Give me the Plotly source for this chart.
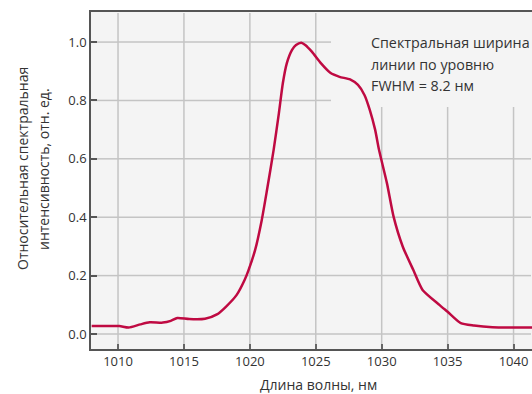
import plotly.graph_objects as go

wavelength = [1008.0, 1009.0, 1010.1, 1010.8, 1011.7, 1012.4, 1013.4, 1014.0, 1014.5, 1015.4,
              1016.6, 1017.5, 1018.2, 1019.0, 1019.6, 1019.9, 1020.4, 1020.9, 1021.3, 1021.8,
              1022.2, 1022.5, 1022.8, 1023.2, 1023.5, 1023.9, 1024.2, 1024.7, 1025.4, 1026.1,
              1026.8, 1027.6, 1028.2, 1028.7, 1029.1, 1029.5, 1029.8, 1030.4, 1030.9, 1031.6,
              1032.4, 1033.1, 1034.4, 1035.0, 1036.0, 1037.0, 1038.4, 1040.0, 1041.5]
intensity = [0.027, 0.027, 0.027, 0.022, 0.033, 0.040, 0.039, 0.045, 0.055, 0.051,
             0.052, 0.067, 0.094, 0.134, 0.185, 0.219, 0.288, 0.390, 0.493, 0.630,
             0.756, 0.859, 0.927, 0.973, 0.990, 0.998, 0.990, 0.967, 0.927, 0.895,
             0.881, 0.872, 0.853, 0.818, 0.767, 0.700, 0.630, 0.516, 0.402, 0.299,
             0.219, 0.151, 0.099, 0.076, 0.037, 0.029, 0.023, 0.022, 0.022]

x_ticks = [1010, 1015, 1020, 1025, 1030, 1035, 1040]
y_ticks = [0.0, 0.2, 0.4, 0.6, 0.8, 1.0]
y_tick_labels = ["0.0", "0.2", "0.4", "0.6", "0.8", "1.0"]

x_title = "Длина волны, нм"
y_title_lines = ["Относительная спектральная", "интенсивность, отн. ед."]
note_lines = ["Спектральная ширина", "линии по уровню", "FWHM = 8.2 нм"]

FONT = "Open Sans"
TXT = "#333333"
GRID = "#c4c4c4"
W, H = 532, 394
L, R, T, B = 91, 0, 12, 45
XR = [1007.95, 1041.4]
YR = [-0.0514, 1.103]

def py(px):
    return (H - B - px) / (H - T - B)

def pxx(px):
    return (px - L) / (W - L - R)

def xdata(px):
    return XR[0] + pxx(px) * (XR[1] - XR[0])

def ydata(px):
    return YR[0] + py(px) * (YR[1] - YR[0])

BOX_X = xdata(331)
BOX_Y = ydata(107)
GX0, GX1 = xdata(L + 1), xdata(W - 1)
GY0, GY1 = ydata(H - B - 1), ydata(T + 1)

# grid drawn as short segments (split at every crossing), interrupted behind the note
xs_cut = [GX0] + x_ticks + [GX1]
ys_cut = [GY0] + y_ticks + [GY1]
gx, gy = [], []
for xv in x_ticks:
    for a, b in zip(ys_cut[:-1], ys_cut[1:]):
        if xv > BOX_X and a >= BOX_Y:
            continue
        top = min(b, BOX_Y) if xv > BOX_X else b
        gx += [xv, xv, None]
        gy += [a, top, None]
for yv in y_ticks:
    for a, b in zip(xs_cut[:-1], xs_cut[1:]):
        if yv > BOX_Y and a >= BOX_X:
            continue
        right = min(b, BOX_X) if yv > BOX_Y else b
        gx += [a, right, None]
        gy += [yv, yv, None]

fig = go.Figure()
fig.add_trace(go.Scatter(x=gx, y=gy, mode="lines", line=dict(color=GRID, width=1.5),
                         hoverinfo="skip", showlegend=False))
fig.add_trace(go.Scatter(x=wavelength, y=intensity, mode="lines",
                         line=dict(color="#bf0a42", width=2.5, shape="spline", smoothing=0.6),
                         hoverinfo="skip", showlegend=False))

for ln, yc in zip(note_lines, [43, 64.5, 85.5]):
    fig.add_annotation(text=ln, xref="paper", yref="paper", x=pxx(369), y=py(yc),
                       xanchor="left", yanchor="middle", showarrow=False,
                       font=dict(family=FONT, size=14.3, color=TXT))

fig.add_annotation(text=x_title, xref="paper", yref="paper", x=pxx(318), y=py(385),
                   xanchor="center", yanchor="middle", showarrow=False,
                   font=dict(family=FONT, size=14, color=TXT))
for ln, xc in zip(y_title_lines, [22, 43]):
    fig.add_annotation(text=ln, xref="paper", yref="paper", x=pxx(xc), y=py(169),
                       xanchor="center", yanchor="middle", textangle=-90, showarrow=False,
                       font=dict(family=FONT, size=14, color=TXT))

fig.update_layout(
    width=W, height=H,
    margin=dict(l=L, r=R, t=T, b=B, pad=0),
    paper_bgcolor="white", plot_bgcolor="#f4f4f4",
    font=dict(family=FONT, size=13, color=TXT),
    xaxis=dict(range=XR, tickvals=x_ticks, ticks="inside", ticklen=5,
               tickcolor="#666666", tickwidth=2, showline=True, linecolor="#555555", linewidth=1.5,
               mirror=True, showgrid=False, zeroline=False,
               tickfont=dict(family=FONT, size=13, color=TXT)),
    yaxis=dict(range=YR, tickvals=y_ticks, ticktext=y_tick_labels, ticks="inside",
               ticklen=6, tickcolor="#555555", tickwidth=1.5, showline=True, linecolor="#555555",
               linewidth=1.5, showgrid=False, zeroline=False,
               tickfont=dict(family=FONT, size=13, color=TXT)),
)

fig.write_html("out.html")
